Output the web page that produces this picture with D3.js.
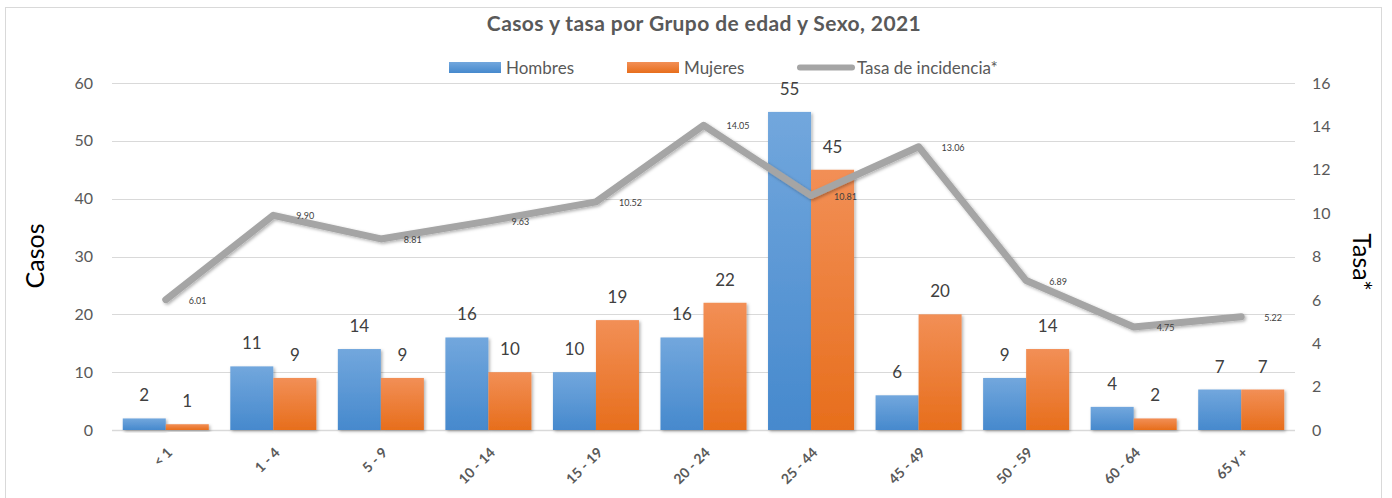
<!DOCTYPE html>
<html>
<head>
<meta charset="utf-8">
<script src="https://cdn.jsdelivr.net/npm/d3@7"></script>
<style>
  body { margin: 0; background: #fff; }
  text { font-family: Lato, "Open Sans", sans-serif; }
</style>
</head>
<body>
<div id="chart"></div>
<script>
let w = 1392;
let h = 498;
let margin = {top: 83, right: 97, bottom: 68, left: 112};

const grupos = ['< 1', '1 - 4', '5 - 9', '10 - 14', '15 - 19', '20 - 24', '25 - 44', '45 - 49', '50 - 59', '60 - 64', '65 y +'];
const hombres = [2, 11, 14, 16, 10, 16, 55, 6, 9, 4, 7];
const mujeres = [1, 9, 9, 10, 19, 22, 45, 20, 14, 2, 7];
const tasa = [6.01, 9.90, 8.81, 9.63, 10.52, 14.05, 10.81, 13.06, 6.89, 4.75, 5.22];
const casosTicks = [0, 10, 20, 30, 40, 50, 60];
const tasaTicks = [0, 2, 4, 6, 8, 10, 12, 14, 16];

const svg = d3.select('#chart')
    .append('svg')
    .attr('width', w)
    .attr('height', h);

let defs = svg.append('defs');

const grad = (id, top, bottom) => {
    let g = defs.append('linearGradient')
        .attr('id', id)
        .attr('x1', 0).attr('y1', 0).attr('x2', 0).attr('y2', 1);
    g.append('stop').attr('offset', '0%').attr('stop-color', top);
    g.append('stop').attr('offset', '100%').attr('stop-color', bottom);
};
grad('gBlue', '#72a7dd', '#4689cd');
grad('gOrange', '#f28f56', '#e76e1c');

let shadow = defs.append('filter')
    .attr('id', 'shadow')
    .attr('x', '-20%').attr('y', '-20%').attr('width', '140%').attr('height', '140%');
shadow.append('feDropShadow')
    .attr('dx', 1.5).attr('dy', 1.5)
    .attr('stdDeviation', 1.5)
    .attr('flood-color', '#000')
    .attr('flood-opacity', 0.3);

// chart border
svg.append('rect')
    .attr('x', 5.5).attr('y', 7.5)
    .attr('width', 1376).attr('height', 500)
    .attr('fill', 'none')
    .attr('stroke', '#d9d9d9');

let xScale = d3.scaleBand()
    .domain(grupos)
    .range([margin.left, w - margin.right])
    .paddingInner(0.2)
    .paddingOuter(0.1);

let subScale = d3.scaleBand()
    .domain(['Hombres', 'Mujeres'])
    .range([0, xScale.bandwidth()]);

let yScale = d3.scaleLinear()
    .domain([0, 60])
    .range([h - margin.bottom, margin.top]);

let y2Scale = d3.scaleLinear()
    .domain([0, 16])
    .range([h - margin.bottom, margin.top]);

let x0 = margin.left, x1 = w - margin.right;

// gridlines
svg.append('g')
    .selectAll('line')
    .data(casosTicks)
    .enter()
    .append('line')
    .attr('x1', x0).attr('x2', x1)
    .attr('y1', d => Math.round(yScale(d)) + 0.5)
    .attr('y2', d => Math.round(yScale(d)) + 0.5)
    .attr('stroke', '#d9d9d9')
    .attr('stroke-width', d => d === 0 ? 1.5 : 1.2);

// left axis
let yAxis = d3.axisLeft(yScale).tickValues(casosTicks).tickSize(0).tickPadding(14);
svg.append('g')
    .attr('class', 'yAxis')
    .attr('transform', 'translate(' + (x0 - 5) + ',0)')
    .call(yAxis)
    .call(g => g.select('.domain').remove())
    .selectAll('text')
    .style('font-size', '16px')
    .attr('fill', '#595959');

// right axis
let y2Axis = d3.axisRight(y2Scale).tickValues(tasaTicks).tickSize(0).tickPadding(14);
svg.append('g')
    .attr('class', 'y2Axis')
    .attr('transform', 'translate(' + (x1 + 3) + ',0)')
    .call(y2Axis)
    .call(g => g.select('.domain').remove())
    .selectAll('text')
    .style('font-size', '16px')
    .attr('fill', '#595959');

// x labels rotated
let xAxis = d3.axisBottom(xScale).tickSize(0).tickPadding(0);
svg.append('g')
    .attr('class', 'xAxis')
    .attr('transform', 'translate(0,' + (h - margin.bottom) + ')')
    .call(xAxis)
    .call(g => g.select('.domain').remove())
    .selectAll('text')
    .style('font-size', '14px')
    .style('font-weight', 'bold')
    .attr('fill', '#595959')
    .attr('text-anchor', 'end')
    .attr('y', 0)
    .attr('dy', '0.35em')
    .attr('transform', 'translate(4,20) rotate(-45)');

// axis titles
svg.append('text')
    .attr('text-anchor', 'middle')
    .attr('transform', 'translate(44,256) rotate(-90)')
    .style('font-size', '25px')
    .attr('fill', '#000')
    .text('Casos');

svg.append('text')
    .attr('text-anchor', 'middle')
    .attr('transform', 'translate(1353,262) rotate(90)')
    .style('font-size', '25px')
    .attr('fill', '#000')
    .text('Tasa*');

// bars
const series = [
    {name: 'Hombres', values: hombres, fill: 'url(#gBlue)'},
    {name: 'Mujeres', values: mujeres, fill: 'url(#gOrange)'}
];

series.forEach(s => {
    let g = svg.append('g');
    g.selectAll('rect')
        .data(s.values)
        .enter()
        .append('rect')
        .attr('x', (d, i) => xScale(grupos[i]) + subScale(s.name))
        .attr('y', d => yScale(d))
        .attr('width', subScale.bandwidth())
        .attr('height', d => yScale(0) - yScale(d))
        .attr('fill', s.fill)
        .attr('filter', 'url(#shadow)');

    g.selectAll('text')
        .data(s.values)
        .enter()
        .append('text')
        .attr('x', (d, i) => xScale(grupos[i]) + subScale(s.name) + subScale.bandwidth() / 2)
        .attr('y', d => yScale(d) - 17)
        .attr('text-anchor', 'middle')
        .style('font-size', '17px')
        .attr('fill', '#404040')
        .text(d => d);
});

// rate line
let line = d3.line()
    .x((d, i) => xScale(grupos[i]) + xScale.bandwidth() / 2)
    .y(d => y2Scale(d));

svg.append('path')
    .datum(tasa)
    .attr('d', line)
    .attr('fill', 'none')
    .attr('stroke', '#a5a5a5')
    .attr('stroke-width', 7)
    .attr('stroke-linejoin', 'round')
    .attr('stroke-linecap', 'round')
    .attr('filter', 'url(#shadow)');

svg.append('g')
    .selectAll('text')
    .data(tasa)
    .enter()
    .append('text')
    .attr('x', (d, i) => xScale(grupos[i]) + xScale.bandwidth() / 2 + 23)
    .attr('y', d => y2Scale(d) + 1)
    .attr('dy', '0.35em')
    .style('font-size', '9px')
    .attr('fill', '#404040')
    .text(d => d.toFixed(2));

// title
svg.append('text')
    .attr('x', 704)
    .attr('y', 31)
    .attr('text-anchor', 'middle')
    .style('font-size', '21px')
    .style('font-weight', 'bold')
    .style('letter-spacing', '0.4px')
    .attr('fill', '#595959')
    .text('Casos y tasa por Grupo de edad y Sexo, 2021');

// legend
let legendItems = [
    {label: 'Hombres', x: 449, type: 'rect', fill: 'url(#gBlue)'},
    {label: 'Mujeres', x: 627, type: 'rect', fill: 'url(#gOrange)'},
    {label: 'Tasa de incidencia*', x: 797, type: 'line', fill: '#a5a5a5'}
];

let legend = svg.append('g');
legendItems.forEach(d => {
    if (d.type === 'rect') {
        legend.append('rect')
            .attr('x', d.x).attr('y', 62)
            .attr('width', 52).attr('height', 11)
            .attr('fill', d.fill);
    } else {
        legend.append('line')
            .attr('x1', d.x + 3).attr('x2', d.x + 55)
            .attr('y1', 67.5).attr('y2', 67.5)
            .attr('stroke', d.fill)
            .attr('stroke-width', 6)
            .attr('stroke-linecap', 'round');
    }
    legend.append('text')
        .attr('x', d.x + (d.type === 'rect' ? 57 : 60))
        .attr('y', 68)
        .attr('dy', '0.35em')
        .style('font-size', '17px')
        .attr('fill', '#595959')
        .text(d.label);
});
</script>
</body>
</html>
